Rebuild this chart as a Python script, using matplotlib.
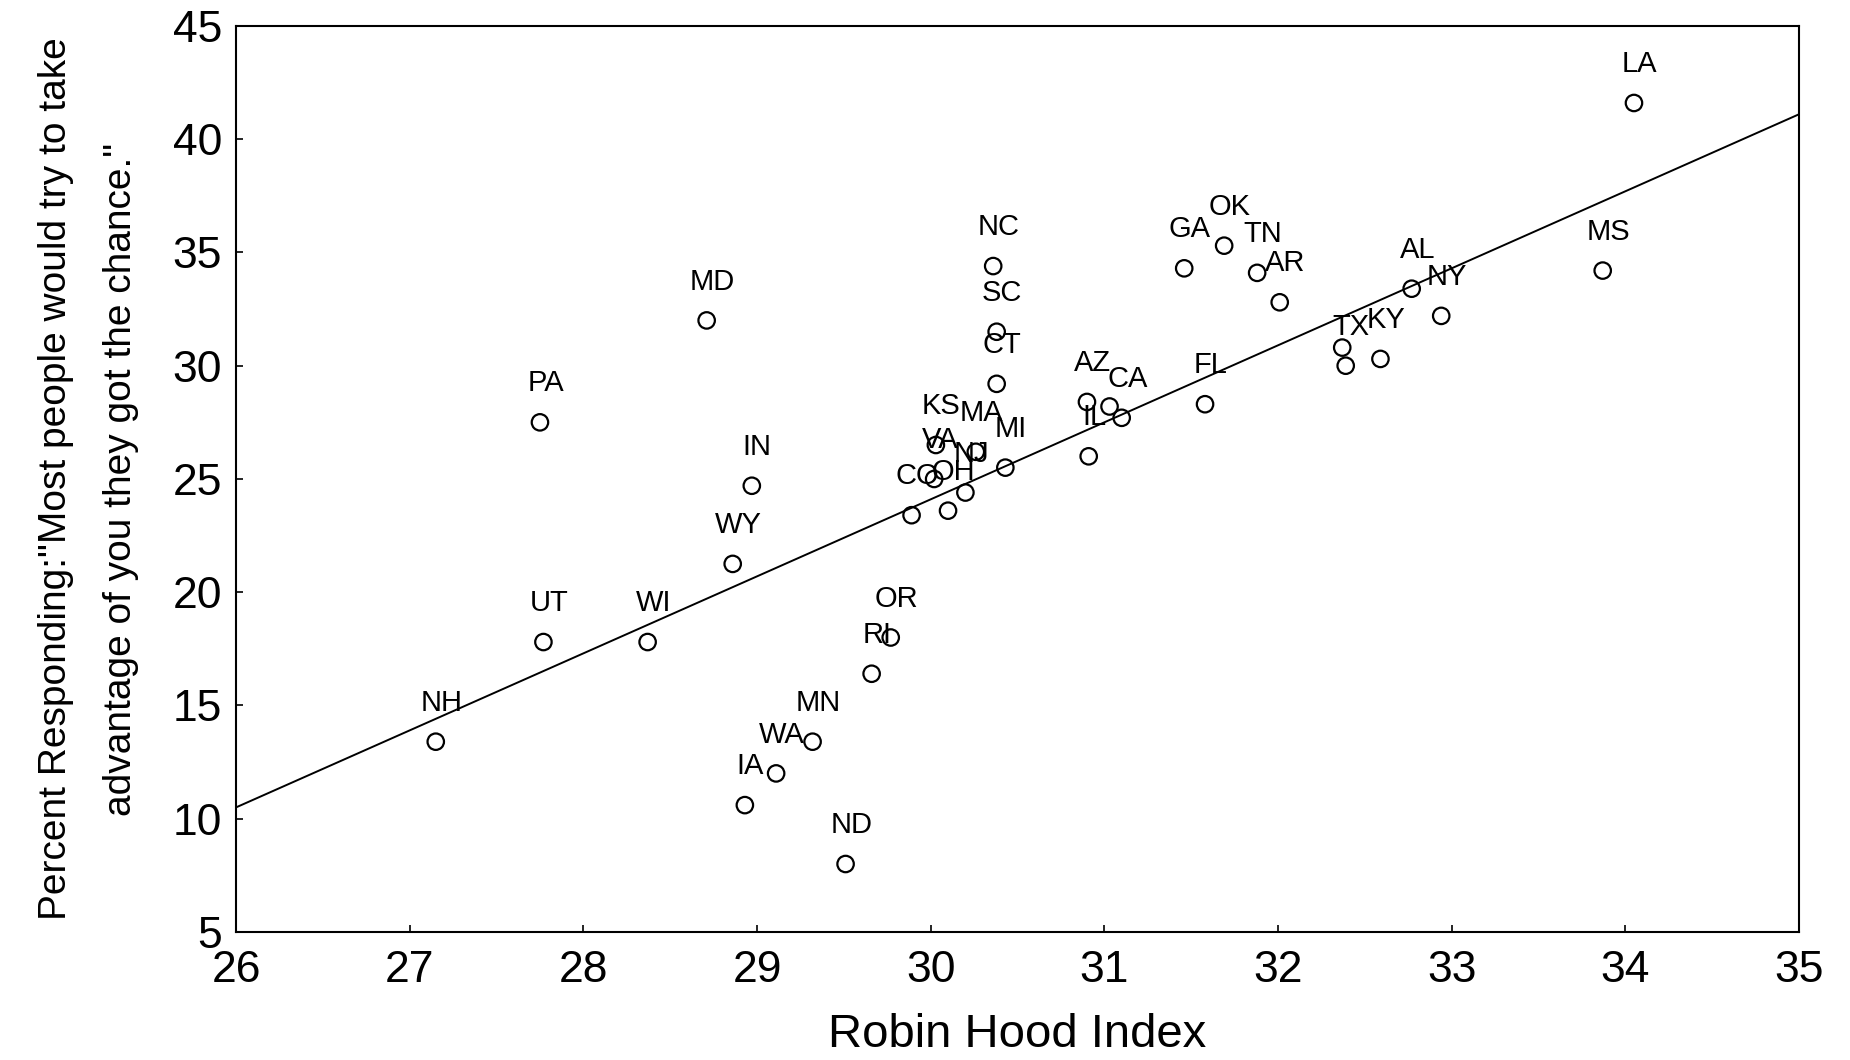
import matplotlib
matplotlib.use("Agg")
import matplotlib.pyplot as plt

states = ['LA', 'MS', 'NY', 'AL', 'KY', 'TX', '', 'AR', 'TN', 'OK', 'GA', 'FL',
          'AZ', '', 'CA', 'IL', 'NC', 'SC', 'CT', 'MI', 'MA', 'KS', 'VA', 'NJ',
          'OH', 'CO', 'MD', 'PA', 'IN', 'WY', 'UT', 'WI', 'NH', 'OR', 'RI', 'MN',
          'WA', 'IA', 'ND']
robin_hood = [34.05, 33.87, 32.94, 32.77, 32.59, 32.39, 32.37, 32.01, 31.88, 31.69,
              31.46, 31.58, 30.90, 31.03, 31.10, 30.91, 30.36, 30.38, 30.38, 30.43,
              30.26, 30.03, 30.02, 30.20, 30.10, 29.89, 28.71, 27.75, 28.97, 28.86,
              27.77, 28.37, 27.15, 29.77, 29.66, 29.32, 29.11, 28.93, 29.51]
pct_take_adv = [41.6, 34.2, 32.2, 33.4, 30.3, 30.0, 30.8, 32.8, 34.1, 35.3,
                34.3, 28.3, 28.4, 28.2, 27.7, 26.0, 34.4, 31.5, 29.2, 25.5,
                26.2, 26.5, 25.0, 24.4, 23.6, 23.4, 32.0, 27.5, 24.7, 21.25,
                17.8, 17.8, 13.4, 18.0, 16.4, 13.4, 12.0, 10.6, 8.0]
fit_x = [26, 35]
fit_y = [10.5, 41.1]
x_ticks = [26, 27, 28, 29, 30, 31, 32, 33, 34, 35]
y_ticks = [5, 10, 15, 20, 25, 30, 35, 40, 45]

plt.rcParams['font.family'] = ['Liberation Sans', 'DejaVu Sans']

fig = plt.figure(figsize=(18.5, 10.6), dpi=100)
ax = fig.add_axes([0.1276, 0.1208, 0.8448, 0.8547])

ax.plot(fit_x, fit_y, color='black', lw=1.4, zorder=2)
ax.scatter(robin_hood, pct_take_adv, s=140, facecolors='none', edgecolors='black',
           linewidths=1.6, zorder=3)
for s, xv, yv in zip(states, robin_hood, pct_take_adv):
    if s:
        ax.annotate(s, (xv, yv), xytext=(4, 28), textcoords='offset points',
                    ha='center', va='center', fontsize=21, color='black', zorder=4)

ax.set_xlim(26, 35)
ax.set_ylim(5, 45)
ax.set_xticks(x_ticks)
ax.set_yticks(y_ticks)
ax.set_xticklabels([str(v) for v in x_ticks])
ax.set_yticklabels([str(v) for v in y_ticks])
ax.tick_params(direction='in', length=5, width=1.2, labelsize=32, pad=10)
ax.tick_params(axis='x', pad=13)
for sp in ax.spines.values():
    sp.set_linewidth(1.5)

ax.set_xlabel('Robin Hood Index', fontsize=34, labelpad=16)
ax.set_ylabel('Percent Responding:"Most people would try to take\n'
              'advantage of you they got the chance."',
              fontsize=28, linespacing=2.05, labelpad=24)

fig.savefig('out.png', dpi=100)
